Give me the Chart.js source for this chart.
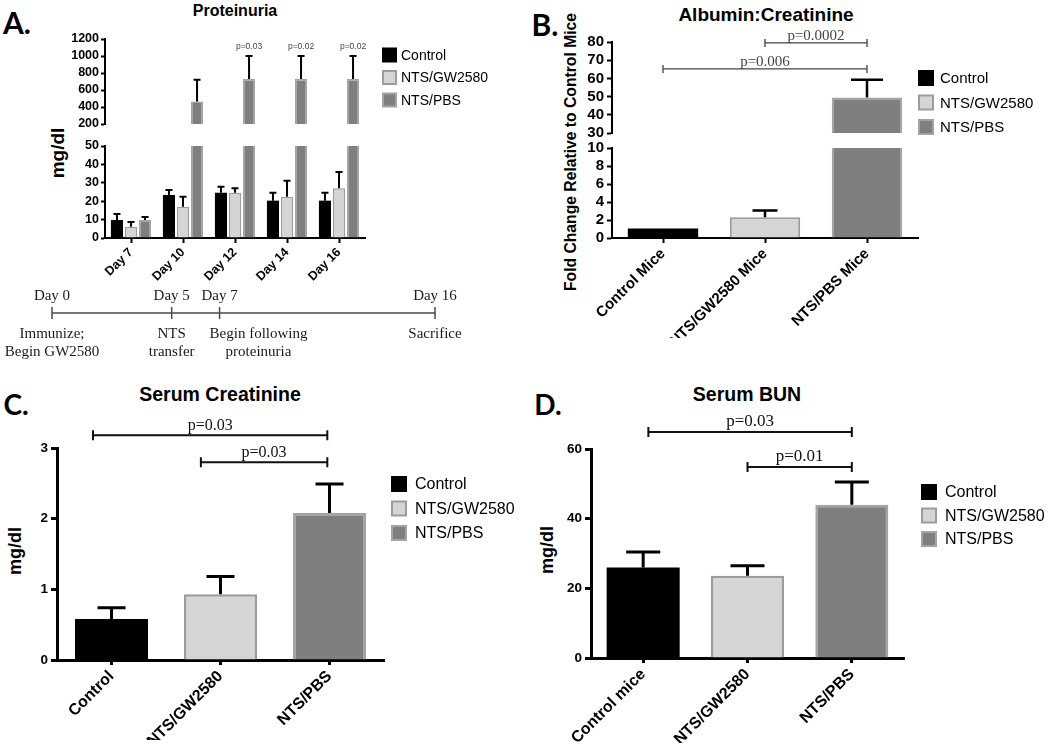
<!DOCTYPE html>
<html>
<head>
<meta charset="utf-8">
<title>Proteinuria and renal function</title>
<script src="https://cdn.jsdelivr.net/npm/chart.js@4.4.1/dist/chart.umd.min.js"></script>
<style>
  html, body { margin: 0; padding: 0; background: #fff; }
  #fig { position: relative; width: 1050px; height: 747px; overflow: hidden; }
  #fig canvas { position: absolute; left: 0; top: 0; }
  .t { position: absolute; white-space: nowrap; line-height: 1; color: #000;
       transform: translate(-50%, -50%); font-family: "Liberation Sans", Arial, sans-serif; font-weight: bold; }
  .letter { font-family: Lato, "Liberation Sans", sans-serif; font-weight: 700; }
  .rot { transform: translate(-50%, -50%) rotate(-90deg); }
</style>
</head>
<body>
<div id="fig">
  <div class="t letter" style="left:17px;top:22px;font-size:30px">A.</div>
  <div class="t letter" style="left:545px;top:24px;font-size:30px">B.</div>
  <div class="t letter" style="left:16px;top:404px;font-size:28px">C.</div>
  <div class="t letter" style="left:548px;top:404px;font-size:28px">D.</div>

  <div class="t" style="left:235px;top:11px;font-size:16px">Proteinuria</div>
  <div class="t" style="left:766px;top:14px;font-size:19px">Albumin:Creatinine</div>
  <div class="t" style="left:220px;top:395px;font-size:19.5px">Serum Creatinine</div>
  <div class="t" style="left:747px;top:395px;font-size:19.5px">Serum BUN</div>

  <div class="t rot" style="left:57px;top:153px;font-size:19px">mg/dl</div>
  <div class="t rot" style="left:571px;top:152px;font-size:15.7px">Fold Change Relative to Control Mice</div>
  <div class="t rot" style="left:15px;top:551px;font-size:18px">mg/dl</div>
  <div class="t rot" style="left:547px;top:550px;font-size:18px">mg/dl</div>
</div>
<script>
// groups shown in every legend
const seriesNames = ['Control', 'NTS/GW2580', 'NTS/PBS'];
const seriesFill = ['#000000', '#d5d5d5', '#7f7f7f'];
const seriesEdge = ['#000000', '#9c9c9c', '#a3a3a3'];

// A. proteinuria, mg/dl (mean and SEM)
const protDays = ['Day 7', 'Day 10', 'Day 12', 'Day 14', 'Day 16'];
const protControl = [9.8, 23.4, 24.6, 20.3, 20.3];
const protControlSem = [3.2, 2.7, 3.3, 4.3, 4.3];
const protGW = [6.1, 17.0, 24.6, 22.4, 27.0];
const protGWSem = [2.6, 5.4, 2.4, 8.7, 8.9];
const protPBS = [9.8, 465, 728, 728, 728];
const protPBSSem = [1.6, 255, 272, 272, 272];
const protNotes = ['', '', 'p=0.03', 'p=0.02', 'p=0.02'];
const protTicksHigh = [200, 400, 600, 800, 1000, 1200];
const protTicksLow = [0, 10, 20, 30, 40, 50];

// timeline under A
const timeDays = [0, 5, 7, 16];
const timeEvents = [['Immunize;', 'Begin GW2580'], ['NTS', 'transfer'], ['Begin following', 'proteinuria'], ['Sacrifice']];

// B. albumin:creatinine, fold change
const albGroups = ['Control Mice', 'NTS/GW2580 Mice', 'NTS/PBS Mice'];
const albMean = [1.05, 2.3, 49.5];
const albSem = [0, 0.75, 9.7];
const albTicksHigh = [30, 40, 50, 60, 70, 80];
const albTicksLow = [0, 2, 4, 6, 8, 10];
const albPairs = [[1, 2, 79.5, 'p=0.0002'], [0, 2, 65.2, 'p=0.006']];

// C. serum creatinine, mg/dl
const creatGroups = ['Control', 'NTS/GW2580', 'NTS/PBS'];
const creatMean = [0.58, 0.93, 2.08];
const creatSem = [0.16, 0.25, 0.41];
const creatTicks = [0, 1, 2, 3];
const creatPairs = [[-0.17, 1.98, 3.18, 'p=0.03'], [0.82, 1.98, 2.8, 'p=0.03']];

// D. serum BUN, mg/dl
const bunGroups = ['Control mice', 'NTS/GW2580', 'NTS/PBS'];
const bunMean = [26, 23.6, 44];
const bunSem = [4.4, 2.9, 6.5];
const bunTicks = [0, 20, 40, 60];
const bunPairs = [[0.05, 2, 64.9, 'p=0.03'], [1, 2, 54.8, 'p=0.01']];

const W = 1050, H = 747;
const SANS = '"Liberation Sans", Arial, sans-serif';
const SERIF = '"Liberation Serif", "Times New Roman", serif';

// mean + SEM whiskers (upper side only, as in the figure)
const errorBars = {
  id: 'errorBars',
  afterDatasetsDraw(chart, args, o) {
    const ctx = chart.ctx, ys = chart.scales.y;
    ctx.save();
    ctx.strokeStyle = '#000';
    ctx.lineWidth = o.width;
    chart.data.datasets.forEach((ds, di) => {
      chart.getDatasetMeta(di).data.forEach((bar, i) => {
        const m = ds.data[i], e = ds.sem[i];
        if (!e || m < ys.min || m > ys.max) return;
        const y0 = ys.getPixelForValue(m), y1 = ys.getPixelForValue(m + e);
        ctx.beginPath();
        ctx.moveTo(bar.x, y0);
        ctx.lineTo(bar.x, y1);
        ctx.moveTo(bar.x - o.cap / 2, y1);
        ctx.lineTo(bar.x + o.cap / 2, y1);
        ctx.stroke();
      });
    });
    ctx.restore();
  }
};

// significance brackets
const brackets = {
  id: 'brackets',
  afterDraw(chart, args, o) {
    const ctx = chart.ctx, xs = chart.scales.x, ys = chart.scales.y;
    ctx.save();
    ctx.strokeStyle = o.color;
    ctx.fillStyle = o.color;
    ctx.lineWidth = o.width;
    ctx.font = o.font;
    ctx.textAlign = 'center';
    ctx.textBaseline = 'alphabetic';
    o.pairs.forEach(([a, b, level, label]) => {
      const x0 = xs.getPixelForValue(a), x1 = xs.getPixelForValue(b), y = ys.getPixelForValue(level);
      ctx.beginPath();
      ctx.moveTo(x0, y); ctx.lineTo(x1, y);
      ctx.moveTo(x0, y - o.tick); ctx.lineTo(x0, y + o.tick);
      ctx.moveTo(x1, y - o.tick); ctx.lineTo(x1, y + o.tick);
      ctx.stroke();
      ctx.fillText(label, (x0 + x1) / 2, y - o.lift);
    });
    ctx.restore();
  }
};

// legend boxes
const keyBox = {
  id: 'keyBox',
  afterDraw(chart, args, o) {
    const ctx = chart.ctx;
    ctx.save();
    ctx.font = o.font;
    ctx.textBaseline = 'middle';
    ctx.textAlign = 'left';
    seriesNames.forEach((name, i) => {
      const y = o.y + i * o.dy;
      ctx.fillStyle = seriesEdge[i];
      ctx.fillRect(o.x, y - o.size / 2, o.size, o.size);
      ctx.fillStyle = seriesFill[i];
      ctx.fillRect(o.x + o.edge, y - o.size / 2 + o.edge, o.size - 2 * o.edge, o.size - 2 * o.edge);
      ctx.fillStyle = '#000';
      ctx.fillText(name, o.x + o.size + o.gap, y + 1);
    });
    ctx.restore();
  }
};

// small p-value notes above bars
const barNotes = {
  id: 'barNotes',
  afterDraw(chart, args, o) {
    const ctx = chart.ctx, ys = chart.scales.y, bars = chart.getDatasetMeta(o.dataset).data;
    ctx.save();
    ctx.font = o.font;
    ctx.fillStyle = o.color;
    ctx.textAlign = 'center';
    ctx.textBaseline = 'middle';
    o.notes.forEach((t, i) => { if (t) ctx.fillText(t, bars[i].x, ys.getPixelForValue(o.level)); });
    ctx.restore();
  }
};

// experiment timeline
const timeline = {
  id: 'timeline',
  afterDraw(chart, args, o) {
    const ctx = chart.ctx, xs = chart.scales.x, y = chart.chartArea.top;
    ctx.save();
    ctx.strokeStyle = '#4a4a4a';
    ctx.lineWidth = 1.5;
    ctx.beginPath();
    ctx.moveTo(xs.getPixelForValue(timeDays[0]), y);
    ctx.lineTo(xs.getPixelForValue(timeDays[timeDays.length - 1]), y);
    timeDays.forEach(d => { const x = xs.getPixelForValue(d); ctx.moveTo(x, y - 6); ctx.lineTo(x, y + 6); });
    ctx.stroke();
    ctx.font = o.font;
    ctx.fillStyle = '#1a1a1a';
    ctx.textBaseline = 'middle';
    ctx.textAlign = 'center';
    timeDays.forEach((d, i) => {
      const x = xs.getPixelForValue(d);
      ctx.fillText('Day ' + d, x, y - 17);
      let cx = x;
      if (o.align[i] === 'left') {
        const w = Math.max(...timeEvents[i].map(s => ctx.measureText(s).width));
        cx = x + o.leftShift + w / 2;
      }
      timeEvents[i].forEach((line, k) => ctx.fillText(line, cx, y + 21 + k * 18));
    });
    ctx.restore();
  }
};

Chart.register(errorBars, brackets, keyBox, barNotes, timeline);

function makeCanvas() {
  const c = document.createElement('canvas');
  c.width = W;
  c.height = H;
  document.getElementById('fig').appendChild(c);
  return c;
}

function barChart(p) {
  const showX = !!p.xH;
  return new Chart(makeCanvas(), {
    type: 'bar',
    data: { labels: p.labels, datasets: p.datasets },
    options: {
      responsive: false,
      animation: false,
      events: [],
      layout: { padding: { left: p.area[0] - p.yW, top: p.area[1], right: W - p.area[2], bottom: H - p.area[3] - (p.xH || 0) } },
      datasets: { bar: { categoryPercentage: p.cat, barPercentage: p.bar } },
      plugins: {
        legend: { display: false },
        tooltip: { enabled: false },
        errorBars: p.err || false,
        brackets: p.brackets || false,
        keyBox: p.key || false,
        barNotes: p.notes || false,
        timeline: false
      },
      scales: {
        x: {
          display: showX,
          offset: true,
          z: 1,
          afterFit: s => { if (showX) s.height = p.xH; },
          border: { color: '#000', width: p.axis },
          grid: { offset: false, drawOnChartArea: false, tickLength: 5, tickWidth: p.axis, tickColor: '#000' },
          ticks: { color: '#000', font: { family: SANS, size: p.xFont, weight: 'bold' },
                   minRotation: 45, maxRotation: 45, autoSkip: false, padding: 2 }
        },
        y: {
          min: p.yTicks[0],
          max: p.yTicks[p.yTicks.length - 1],
          z: 1,
          afterFit: s => { s.width = p.yW; },
          afterBuildTicks: s => { s.ticks = p.yTicks.map(v => ({ value: v })); },
          border: { color: '#000', width: p.axis },
          grid: { drawOnChartArea: false, tickLength: p.tickLen || 5, tickWidth: p.axis, tickColor: '#000' },
          ticks: { color: '#000', font: { family: SANS, size: p.yFont, weight: 'bold' },
                   padding: p.tickPad || 3, autoSkip: false, callback: v => String(v) }
        }
      }
    }
  });
}

function protSets() {
  const vals = [protControl, protGW, protPBS];
  const sems = [protControlSem, protGWSem, protPBSSem];
  return seriesNames.map((name, i) => ({
    label: name, data: vals[i], sem: sems[i],
    backgroundColor: seriesFill[i], borderColor: seriesEdge[i],
    borderWidth: i ? 1.5 : 0, clip: 0
  }));
}

function groupSet(mean, sem, bw) {
  return [{
    label: 'mean', data: mean, sem: sem,
    backgroundColor: seriesFill, borderColor: seriesEdge,
    borderWidth: [0, bw, bw], clip: 0
  }];
}

// A: broken y axis drawn as two stacked charts
barChart({
  area: [105, 39, 365, 124], yW: 50, labels: protDays, datasets: protSets(), yTicks: protTicksHigh,
  cat: 0.81, bar: 0.86, axis: 2, yFont: 12.5, xFont: 12.5, tickLen: 4, tickPad: 2,
  err: { width: 2, cap: 7 },
  notes: { notes: protNotes, dataset: 2, level: 1106, font: '8.5px ' + SANS, color: '#444' }
});
barChart({
  area: [105, 146, 365, 238], yW: 50, xH: 50, labels: protDays, datasets: protSets(), yTicks: protTicksLow,
  cat: 0.81, bar: 0.86, axis: 2, yFont: 12.5, xFont: 12.5, tickLen: 4, tickPad: 2,
  err: { width: 2, cap: 7 },
  key: { x: 382, y: 55, dy: 22.5, size: 15, edge: 2, gap: 4, font: '14px ' + SANS }
});

new Chart(makeCanvas(), {
  type: 'scatter',
  data: { datasets: [] },
  options: {
    responsive: false, animation: false, events: [],
    layout: { padding: { left: 52, right: W - 435, top: 313, bottom: H - 314 } },
    plugins: {
      legend: { display: false }, tooltip: { enabled: false },
      errorBars: false, brackets: false, keyBox: false, barNotes: false,
      timeline: { font: '15px ' + SERIF, align: ['center', 'center', 'left', 'center'], leftShift: -10 }
    },
    scales: {
      x: { type: 'linear', min: timeDays[0], max: timeDays[timeDays.length - 1], display: false },
      y: { display: false, min: 0, max: 1 }
    }
  }
});

// B: broken y axis
barChart({
  area: [612, 42, 918, 133], yW: 45, labels: albGroups, datasets: groupSet(albMean, albSem, 2), yTicks: albTicksHigh,
  cat: 1, bar: 0.69, axis: 2, yFont: 15, xFont: 15,
  err: { width: 2.5, cap: 32 },
  brackets: { pairs: albPairs, color: '#444', width: 1.3, tick: 4, lift: 3, font: '15px ' + SERIF },
  key: { x: 918, y: 78, dy: 24.5, size: 16, edge: 2, gap: 6, font: '15px ' + SANS }
});
barChart({
  area: [612, 148, 918, 238], yW: 45, xH: 100, labels: albGroups, datasets: groupSet(albMean, albSem, 2), yTicks: albTicksLow,
  cat: 1, bar: 0.69, axis: 2, yFont: 15, xFont: 15,
  err: { width: 2.5, cap: 25 }
});

// C
barChart({
  area: [57, 448, 384, 660], yW: 40, xH: 80, labels: creatGroups, datasets: groupSet(creatMean, creatSem, 2.5), yTicks: creatTicks,
  cat: 1, bar: 0.67, axis: 3, yFont: 13.5, xFont: 16, tickLen: 6,
  err: { width: 3, cap: 28 },
  brackets: { pairs: creatPairs, color: '#111', width: 2, tick: 5, lift: 5, font: '16px ' + SERIF },
  key: { x: 391, y: 484, dy: 24.5, size: 16, edge: 2, gap: 8, font: '16px ' + SANS }
});

// D
barChart({
  area: [591, 449, 904, 658], yW: 45, xH: 85, labels: bunGroups, datasets: groupSet(bunMean, bunSem, 2.5), yTicks: bunTicks,
  cat: 1, bar: 0.70, axis: 3, yFont: 13.5, xFont: 16, tickLen: 6,
  err: { width: 3, cap: 34 },
  brackets: { pairs: bunPairs, color: '#111', width: 2, tick: 5, lift: 6, font: '17px ' + SERIF },
  key: { x: 921, y: 492, dy: 23.5, size: 16, edge: 2, gap: 8, font: '16px ' + SANS }
});
</script>
</body>
</html>
